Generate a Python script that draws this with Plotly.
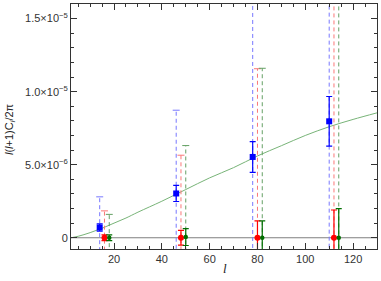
import plotly.graph_objects as go

# ---------------- data ----------------
theory_l = [2, 5, 10, 15, 20, 25, 30, 40, 50, 60, 70, 80, 90, 100, 110, 120, 130]
theory_D = [0.0, 0.1e-6, 0.35e-6, 0.65e-6, 1.0e-6, 1.35e-6, 1.75e-6, 2.5e-6, 3.3e-6,
            4.1e-6, 4.8e-6, 5.6e-6, 6.3e-6, 7.0e-6, 7.6e-6, 8.1e-6, 8.55e-6]

blue_l = [14, 46, 78, 110]
blue_y = [0.7e-6, 3.03e-6, 5.53e-6, 7.97e-6]
blue_err = [0.25e-6, 0.55e-6, 1.05e-6, 1.7e-6]
blue_err2 = [2.1e-6, 5.7e-6, 11.5e-6, 12.0e-6]

red_l = [16, 48, 80, 112]
red_y = [0.0, 0.0, 0.0, 0.0]
red_err = [0.2e-6, 0.5e-6, 1.16e-6, 1.9e-6]
red_err2 = [1.84e-6, 5.65e-6, 11.57e-6, 17.5e-6]

green_l = [18, 50, 82, 114]
green_y = [0.0, 0.05e-6, 0.0, 0.0]
green_err = [0.2e-6, 0.58e-6, 1.16e-6, 2.0e-6]
green_err2 = [1.6e-6, 6.26e-6, 11.6e-6, 17.5e-6]

x_range = [2, 130]
y_range = [-0.77e-6, 1.6e-5]
y_tickvals = [0, 5e-6, 1e-5, 1.5e-5]
y_ticktext = ["0", "5.0×10<sup>−6</sup>", "1.0×10<sup>−5</sup>", "1.5×10<sup>−5</sup>"]
x_tickvals = [20, 40, 60, 80, 100, 120]

fig = go.Figure()

# zero line
fig.add_trace(go.Scatter(x=x_range, y=[0, 0], mode="lines",
                         line=dict(color="#7f7f7f", width=1), hoverinfo="skip"))

# theory curve
fig.add_trace(go.Scatter(x=theory_l, y=theory_D, mode="lines",
                         line=dict(color="rgb(120,180,120)", width=1, shape="spline")))


def dashed_bars(ls, ys, errs, color):
    xs, yy = [], []
    for l, y, e in zip(ls, ys, errs):
        xs += [l, l, None]
        yy += [y - e, y + e, None]
    fig.add_trace(go.Scatter(x=xs, y=yy, mode="lines",
                             line=dict(color=color, width=1, dash="4px,3px"),
                             hoverinfo="skip"))
    fig.add_trace(go.Scatter(x=ls, y=[y + e for y, e in zip(ys, errs)], mode="markers",
                             marker=dict(symbol="line-ew-open", size=5, color=color,
                                         line=dict(color=color, width=1)),
                             hoverinfo="skip"))


dashed_bars(blue_l, blue_y, blue_err2, "rgb(120,120,255)")
dashed_bars(red_l, red_y, red_err2, "rgb(250,120,120)")
dashed_bars(green_l, green_y, green_err2, "rgb(100,160,100)")

fig.add_trace(go.Scatter(x=blue_l, y=blue_y, mode="markers",
                         marker=dict(symbol="square", size=6, color="rgb(0,0,255)"),
                         error_y=dict(type="data", array=blue_err, color="rgb(0,0,255)",
                                      thickness=1.2, width=3)))
fig.add_trace(go.Scatter(x=red_l, y=red_y, mode="markers",
                         marker=dict(symbol="circle", size=6, color="rgb(255,0,0)"),
                         error_y=dict(type="data", array=red_err, color="rgb(255,0,0)",
                                      thickness=1.2, width=3)))
fig.add_trace(go.Scatter(x=green_l, y=green_y, mode="markers",
                         marker=dict(symbol="circle", size=4.5, color="rgb(0,110,0)"),
                         error_y=dict(type="data", array=green_err, color="rgb(0,110,0)",
                                      thickness=1.2, width=3)))

axis_common = dict(showgrid=False, zeroline=False, showline=True, linecolor="#333",
                   linewidth=1, mirror="allticks", ticks="inside", tickcolor="#333",
                   automargin=False,
                   tickfont=dict(family="Liberation Sans, Arial, sans-serif",
                                 size=11, color="#333"))

fig.update_xaxes(range=x_range, tickvals=x_tickvals, ticklen=6,
                 minor=dict(dtick=5, tick0=0, ticks="inside", ticklen=3, tickcolor="#333"),
                 **axis_common)
fig.update_yaxes(range=y_range, tickvals=y_tickvals, ticktext=y_ticktext, ticklen=6,
                 minor=dict(dtick=1e-6, tick0=0, ticks="inside", ticklen=3, tickcolor="#333"),
                 **axis_common)

fig.add_annotation(text="<i>l</i>", xref="paper", yref="paper", x=0.503, y=-0.078,
                   showarrow=False, xanchor="center", yanchor="middle",
                   font=dict(family="Liberation Serif, serif", size=13, color="#222"))
fig.add_annotation(text="<i>l</i>(<i>l</i>+1)C<sub><i>l</i></sub>/2π", xref="paper", yref="paper",
                   x=-0.199, y=0.49, textangle=-90, showarrow=False,
                   xanchor="center", yanchor="middle",
                   font=dict(family="Liberation Sans, Arial, sans-serif", size=11, color="#222"))

fig.update_layout(width=381, height=281, showlegend=False,
                  margin=dict(l=71, r=4, t=4, b=32),
                  paper_bgcolor="white", plot_bgcolor="white")

fig.write_html("out.html", config={"displayModeBar": False},
               post_script="document.body.style.margin='0';document.body.style.padding='0';")
